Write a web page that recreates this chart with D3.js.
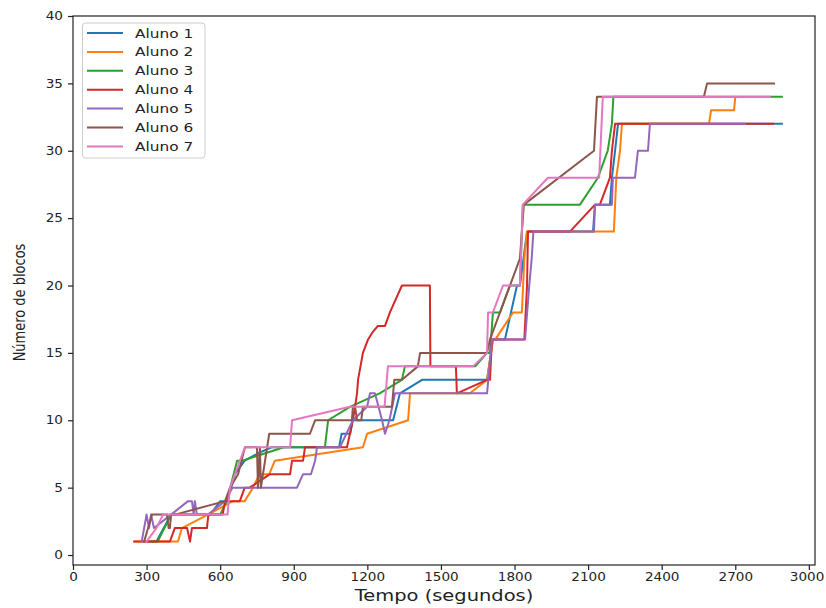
<!DOCTYPE html>
<html>
<head>
<meta charset="utf-8">
<script src="https://cdn.jsdelivr.net/npm/d3@7"></script>
<style>
  html, body { margin: 0; padding: 0; background: #fff; }
  svg { display: block; }
  text { font-family: "DejaVu Sans", sans-serif; fill: #222; }
</style>
</head>
<body>
<svg id="chart" width="826" height="608"></svg>
<script>
// ---------- data (time in seconds, number of blocks) ----------
const categories = ["Aluno 1", "Aluno 2", "Aluno 3", "Aluno 4", "Aluno 5", "Aluno 6", "Aluno 7"];

const aluno1 = [[300,1],[340,1],[370,2],[400,3],[560,3],[600,4],[625,4],[645,5],[660,6],[700,7],[760,7.6],[810,8],[1085,8],[1095,9],[1130,9],[1140,10],[1305,10],[1333,12],[1423,13],[1688,13],[1712,16],[1761,16],[1810,20],[1822,20],[1851,24],[2120,24],[2128,26],[2189,26],[2197,28],[2210,30],[2222,32],[2890,32]];
const aluno2 = [[250,1],[428,1],[444,2],[550,3],[652,4],[700,4],[734,5],[760,6],[800,6],[823,7],[1182,8],[1199,9],[1366,10],[1374,12],[1618,12],[1688,13],[1712,16],[1722,16],[1794,18],[1830,18],[1840,22],[1851,24],[2205,24],[2215,28],[2230,30],[2238,32],[2593,32],[2601,33],[2695,33],[2700,34]];
const aluno3 = [[320,1],[345,1],[400,3],[600,3],[627,4],[669,7],[690,7],[860,8],[1027,8],[1040,10],[1129,11],[1250,12],[1341,13],[1353,14],[1640,14],[1688,15],[1700,15],[1712,18],[1741,18],[1781,20],[1822,20],[1834,26],[2067,26],[2140,28],[2180,30],[2197,32],[2203,34],[2890,34]];
const aluno4 = [[250,1],[395,1],[415,2],[465,2],[477,1],[485,2],[546,2],[552,3],[610,3],[620,4],[680,4],[700,5],[720,5],[803,6],[885,6],[893,7],[938,7],[946,8],[1117,8],[1141,10],[1158,12],[1162,13],[1182,15],[1203,16],[1220,16.5],[1243,17],[1272,17],[1292,18],[1341,20],[1455,20],[1457,14],[1561,14],[1565,12],[1688,13],[1700,13],[1708,16],[1840,16],[1851,20],[1855,24],[2026,24],[2128,26],[2148,26],[2189,28],[2197,30],[2210,32],[2854,32]];
const aluno5 = [[280,1],[300,3],[310,2],[318,3],[330,2],[400,3],[469,4],[485,4],[492,3],[497,4],[505,3],[550,3],[620,4],[650,5],[913,5],[938,6],[970,6],[987,7],[995,8],[1088,8],[1141,10],[1199,11],[1211,12],[1231,12],[1260,10],[1272,9],[1290,10],[1313,12],[1688,12],[1708,16],[1843,16],[1860,20],[1870,22],[1877,24],[2124,24],[2128,26],[2197,26],[2201,28],[2291,28],[2303,30],[2344,30],[2352,32],[2740,32]];
const aluno6 = [[290,1],[322,3],[383,3],[390,2],[395,2],[400,3],[416,3],[620,4],[640,5],[673,6],[701,8],[750,8],[754,5],[762,8],[766,5],[800,9],[966,9],[987,10],[1137,10],[1141,11],[1150,11],[1158,10],[1175,10],[1182,11],[1300,11],[1310,13],[1341,13],[1406,14],[1415,15],[1688,15],[1700,16],[1822,22],[1838,26],[2124,30],[2136,34],[2572,34],[2585,35],[2858,35]];
const aluno7 = [[300,1],[340,2],[367,3],[630,3],[640,5],[701,8],[885,8],[893,10],[1129,11],[1270,11],[1284,14],[1631,14],[1688,15],[1692,18],[1712,18],[1753,20],[1822,20],[1834,26],[1936,28],[2145,28],[2160,34],[2841,34]];

const seriesValues = [aluno1, aluno2, aluno3, aluno4, aluno5, aluno6, aluno7];
const xTickValues = [0, 300, 600, 900, 1200, 1500, 1800, 2100, 2400, 2700, 3000];
const yTickValues = [0, 5, 10, 15, 20, 25, 30, 35, 40];
const xTitle = "Tempo (segundos)";
const yTitle = "Número de blocos";

// ---------- layout & style ----------
const palette = ["#1f77b4", "#ff7f0e", "#2ca02c", "#d62728", "#9467bd", "#8c564b", "#e377c2"];
const plot = { left: 73, right: 815, top: 16, bottom: 565 };
const SX = 1.18; // horizontal stretch of the original picture's text

const svg = d3.select("#chart");

const x = d3.scaleLinear().domain([0, 3025]).range([plot.left, plot.right]);
const y = d3.scaleLinear().domain([-0.74, 40]).range([plot.bottom, plot.top]);

// lines
const line = d3.line().x(d => x(d[0])).y(d => y(d[1]));
svg.append("g").attr("class", "lines")
  .selectAll("path")
  .data(seriesValues)
  .join("path")
  .attr("d", line)
  .attr("fill", "none")
  .attr("stroke", (d, i) => palette[i])
  .attr("stroke-width", 2)
  .attr("stroke-linejoin", "round")
  .attr("stroke-linecap", "square");

// axes
const xAxis = svg.append("g")
  .attr("transform", `translate(0,${plot.bottom})`)
  .call(d3.axisBottom(x).tickValues(xTickValues).tickFormat(d3.format("d")).tickSize(5).tickPadding(3));
const yAxis = svg.append("g")
  .attr("transform", `translate(${plot.left},0)`)
  .call(d3.axisLeft(y).tickValues(yTickValues).tickFormat(d3.format("d")).tickSize(5).tickPadding(5));

[xAxis, yAxis].forEach(g => {
  g.select(".domain").remove();
  g.selectAll(".tick line").attr("stroke", "#222").attr("stroke-width", 1.2);
  g.selectAll(".tick text")
    .style("font-family", '"DejaVu Sans", sans-serif')
    .style("font-size", "11.5px")
    .attr("fill", "#222");
});
xAxis.selectAll(".tick text").attr("transform", `scale(${SX},1)`);
yAxis.selectAll(".tick text").attr("x", -10 / SX).attr("transform", `scale(${SX},1)`);
// keep the last x label inside the picture, as in the reference
xAxis.selectAll(".tick").filter(d => d === 3000).select("text").attr("x", -2);

// frame
svg.append("rect")
  .attr("x", plot.left).attr("y", plot.top)
  .attr("width", plot.right - plot.left).attr("height", plot.bottom - plot.top)
  .attr("fill", "none").attr("stroke", "#222").attr("stroke-width", 1.2);

// axis titles
svg.append("text")
  .attr("transform", `translate(${(plot.left + plot.right) / 2},601) scale(${SX},1)`)
  .attr("text-anchor", "middle")
  .style("font-size", "16.5px")
  .text(xTitle);
svg.append("text")
  .attr("transform", `translate(20,${(plot.top + plot.bottom) / 2 + 12}) scale(${SX},1) rotate(-90)`)
  .attr("text-anchor", "middle")
  .attr("dy", "0.35em")
  .style("font-size", "13px")
  .text(yTitle);

// legend
const lg = svg.append("g").attr("class", "legend");
lg.append("rect")
  .attr("x", 82.5).attr("y", 23).attr("width", 122.5).attr("height", 135)
  .attr("rx", 3)
  .attr("fill", "#fff").attr("fill-opacity", 0.8)
  .attr("stroke", "#ccc").attr("stroke-width", 1);
const item = lg.selectAll("g.item")
  .data(categories)
  .join("g")
  .attr("class", "item")
  .attr("transform", (d, i) => `translate(0,${33 + i * 18.9})`);
item.append("line")
  .attr("x1", 87).attr("x2", 123)
  .attr("stroke", (d, i) => palette[i])
  .attr("stroke-width", 2);
item.append("text")
  .attr("transform", `translate(135,0) scale(${SX},1)`)
  .attr("dy", "0.35em")
  .style("font-size", "13px")
  .text(d => d);
</script>
</body>
</html>
